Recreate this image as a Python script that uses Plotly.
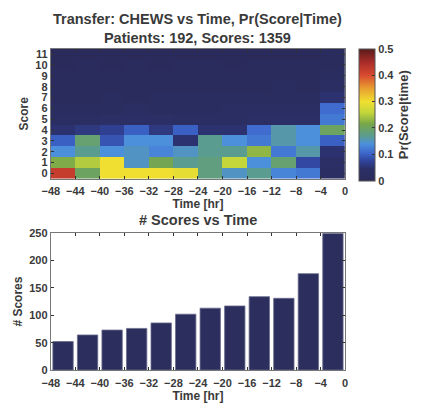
import plotly.graph_objects as go

# Time bins (hours before transfer) and CHEWS score levels
time_centers = [-46, -42, -38, -34, -30, -26, -22, -18, -14, -10, -6, -2]
time_ticks = [-48, -44, -40, -36, -32, -28, -24, -20, -16, -12, -8, -4, 0]
scores = list(range(12))

# Pr(Score | Time): one row per score, one column per time bin
pr_score0 = [0.42, 0.20, 0.30, 0.30, 0.30, 0.29, 0.18, 0.15, 0.17, 0.13, 0.12, 0.03]
pr_score1 = [0.22, 0.25, 0.30, 0.15, 0.21, 0.17, 0.18, 0.26, 0.14, 0.19, 0.08, 0.04]
pr_score2 = [0.14, 0.17, 0.14, 0.15, 0.13, 0.15, 0.17, 0.17, 0.23, 0.12, 0.16, 0.05]
pr_score3 = [0.10, 0.19, 0.09, 0.14, 0.14, 0.05, 0.17, 0.14, 0.12, 0.16, 0.14, 0.10]
pr_score4 = [0.05, 0.06, 0.07, 0.10, 0.06, 0.10, 0.05, 0.05, 0.11, 0.16, 0.14, 0.20]
pr_score5 = [0.03, 0.03, 0.04, 0.04, 0.04, 0.03, 0.03, 0.03, 0.04, 0.04, 0.04, 0.12]
pr_score6 = [0.02, 0.02, 0.02, 0.03, 0.02, 0.02, 0.02, 0.03, 0.03, 0.03, 0.03, 0.11]
pr_score7 = [0.01, 0.01, 0.02, 0.01, 0.02, 0.02, 0.02, 0.02, 0.02, 0.02, 0.02, 0.05]
pr_score8 = [0.01, 0.01, 0.01, 0.01, 0.01, 0.01, 0.01, 0.01, 0.01, 0.02, 0.01, 0.03]
pr_score9 = [0.01, 0.01, 0.01, 0.01, 0.01, 0.01, 0.01, 0.01, 0.01, 0.01, 0.01, 0.02]
pr_score10 = [0.005, 0.01, 0.005, 0.01, 0.005, 0.01, 0.01, 0.005, 0.01, 0.01, 0.01, 0.01]
pr_score11 = [0.005, 0.005, 0.005, 0.005, 0.005, 0.005, 0.005, 0.005, 0.005, 0.005, 0.005, 0.01]

pr_matrix = [pr_score0, pr_score1, pr_score2, pr_score3, pr_score4, pr_score5,
             pr_score6, pr_score7, pr_score8, pr_score9, pr_score10, pr_score11]

# Number of scores recorded in each time bin
score_counts = [52, 64, 73, 76, 86, 102, 113, 117, 134, 131, 176, 250]

FONT = "Liberation Sans, Arial, sans-serif"
TXT = "#3a3a3a"
NAVY = "#2c2e5e"

# Muted jet-style colour map with a flat dark floor for small probabilities
jet_muted = [
    [0.00, "#2a2b5a"],
    [0.09, "#2b2f66"],
    [0.15, "#30429a"],
    [0.21, "#3d66cc"],
    [0.28, "#4c90dc"],
    [0.34, "#5b9c90"],
    [0.43, "#76a64a"],
    [0.52, "#c4d63a"],
    [0.60, "#f0df30"],
    [0.70, "#e8a030"],
    [0.80, "#d84a30"],
    [0.90, "#a82c28"],
    [1.00, "#5a1c1c"],
]

fig = go.Figure()

fig.add_trace(go.Heatmap(
    x=time_centers, y=scores, z=pr_matrix,
    zmin=0, zmax=0.5, colorscale=jet_muted,
    xaxis="x", yaxis="y",
    colorbar=dict(
        x=360 / 423, xanchor="left", xpad=0, ypad=0,
        y=1 - 112 / 410, yanchor="middle",
        len=136 / 410, lenmode="fraction",
        thickness=16, outlinewidth=1, outlinecolor="#555",
        tickvals=[0, 0.1, 0.2, 0.3, 0.4, 0.5],
        ticktext=["0", "0.1", "0.2", "0.3", "0.4", "0.5"],
        ticks="inside", ticklen=3, tickcolor="#333",
        tickfont=dict(family=FONT, size=11, color=TXT, weight="bold"),
        title=dict(text="Pr(Score|time)", side="right",
                   font=dict(family=FONT, size=13, color=TXT, weight="bold")),
    ),
))

fig.add_trace(go.Bar(
    x=time_centers, y=score_counts,
    marker=dict(color=NAVY, line=dict(color="#6a6c8c", width=0.8)),
    xaxis="x2", yaxis="y2", showlegend=False,
))

axis_common = dict(
    ticks="inside", ticklen=3, tickcolor="#333", showgrid=False, zeroline=False,
    showline=True, linecolor="#777", linewidth=1, mirror="ticks",
    tickfont=dict(family=FONT, size=11, color=TXT, weight="bold"),
)
title_font = dict(family=FONT, size=12, color=TXT, weight="bold")

x_dom = [43 / 423, 346 / 423]

fig.update_layout(
    width=423, height=410,
    margin=dict(l=0, r=0, t=0, b=0),
    paper_bgcolor="white", plot_bgcolor="white",
    bargap=0.17, showlegend=False,
    xaxis=dict(domain=x_dom, anchor="y", range=[-48, 0],
               tickvals=time_ticks, ticklabelstandoff=2, **axis_common,
               title=dict(text="Time [hr]", font=title_font, standoff=2)),
    yaxis=dict(domain=[1 - 178 / 410, 1 - 44 / 410], anchor="x", range=[-0.5, 11.5],
               tickvals=scores, **axis_common,
               title=dict(text="Score", font=title_font, standoff=4)),
    xaxis2=dict(domain=x_dom, anchor="y2", range=[-48, 0],
                tickvals=time_ticks, ticklabelstandoff=3, **axis_common,
                title=dict(text="Time [hr]", font=title_font, standoff=2)),
    yaxis2=dict(domain=[1 - 375 / 410, 1 - 234 / 410], anchor="x2", range=[0, 250],
                tickvals=[0, 50, 100, 150, 200, 250], **axis_common,
                title=dict(text="# Scores", font=title_font, standoff=4)),
    annotations=[
        dict(text="Transfer: CHEWS vs Time, Pr(Score|Time)<br>Patients: 192, Scores: 1359",
             x=(x_dom[0] + x_dom[1]) / 2, y=1 - 3 / 410, xref="paper", yref="paper",
             xanchor="center", yanchor="top", showarrow=False,
             font=dict(family=FONT, size=14.5, color=TXT, weight="bold")),
        dict(text="# Scores vs Time",
             x=(x_dom[0] + x_dom[1]) / 2, y=1 - 210 / 410, xref="paper", yref="paper",
             xanchor="center", yanchor="top", showarrow=False,
             font=dict(family=FONT, size=14.5, color=TXT, weight="bold")),
    ],
)

fig.write_html("out.html")
